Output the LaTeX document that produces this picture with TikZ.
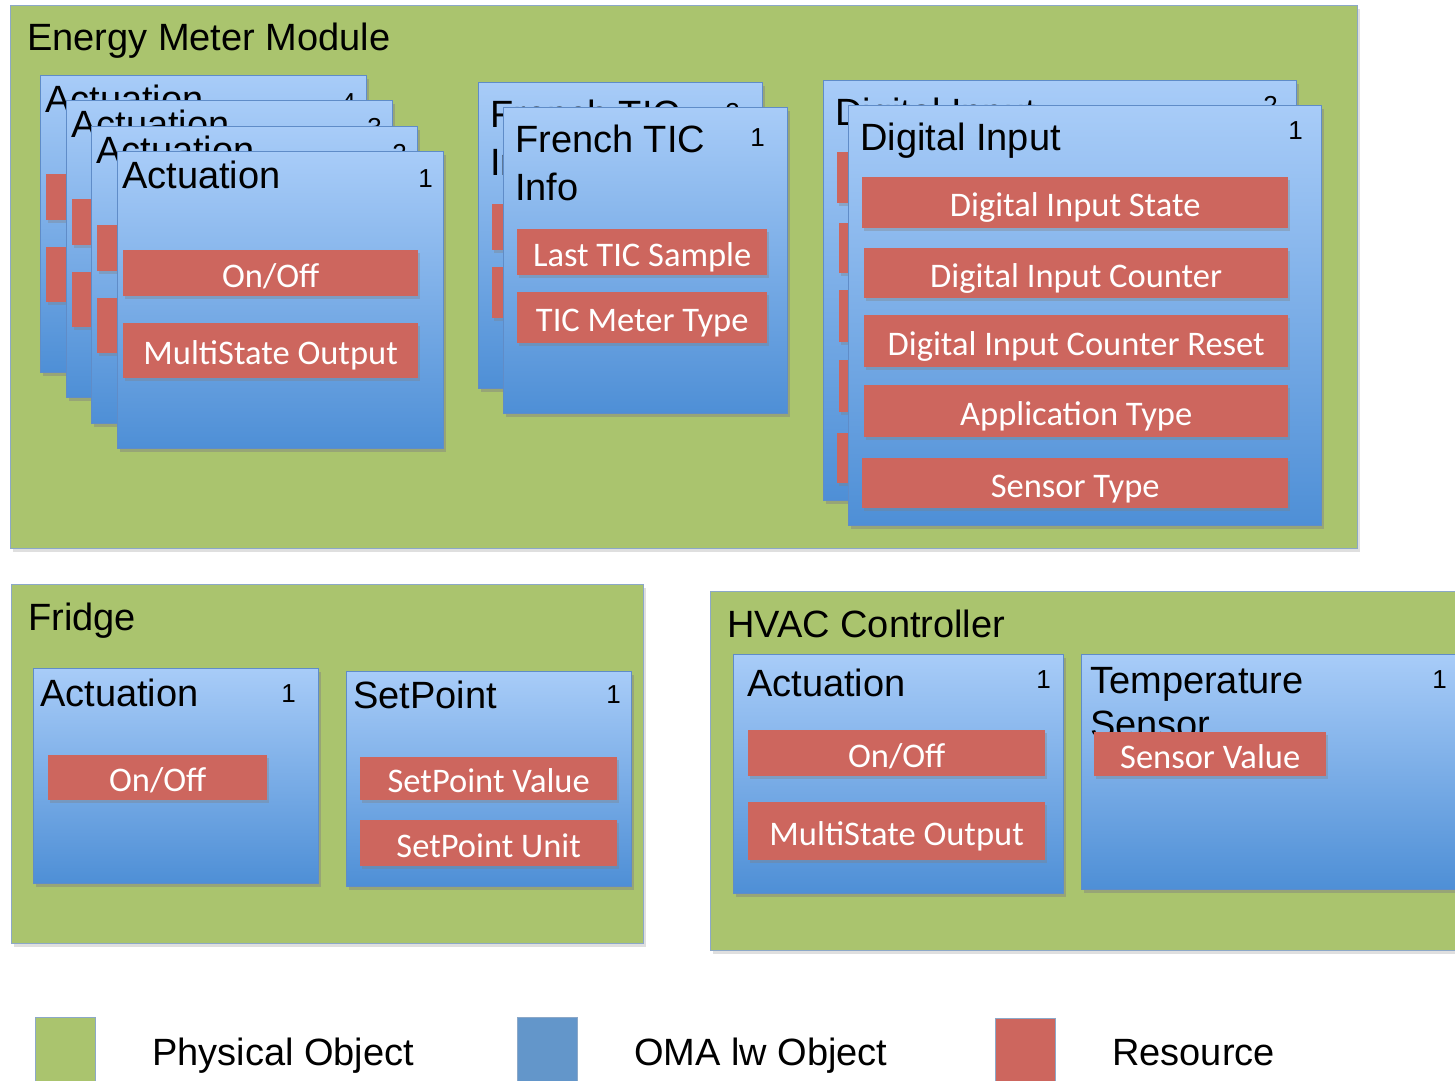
\documentclass[tikz,border=0pt]{standalone}
\usepackage{fontspec}
\setmainfont{Liberation Sans}
\newfontfamily\resfont{Carlito}
\usetikzlibrary{shadows}
\definecolor{phgreen}{RGB}{170,196,110}
\definecolor{phborder}{RGB}{140,168,200}
\definecolor{objtop}{RGB}{168,204,248}
\definecolor{objbot}{RGB}{78,143,214}
\definecolor{objborder}{RGB}{95,140,200}
\definecolor{resred}{RGB}{205,102,94}
\definecolor{legblue}{RGB}{99,150,202}
\tikzset{
 phys/.style={draw=phborder, fill=phgreen, line width=1.2pt, anchor=north west, inner sep=0pt,
   drop shadow={shadow xshift=2pt, shadow yshift=-3pt, opacity=0.25}},
 obj/.style={draw=objborder, line width=0.8pt, top color=objtop, bottom color=objbot, anchor=north west, inner sep=0pt,
   drop shadow={shadow xshift=3pt, shadow yshift=-4pt, opacity=0.45}},
 res/.style={fill=resred, anchor=north west, inner sep=0pt, text=white, font=\resfont\fontsize{34.5}{37}\selectfont,
   text height=28pt, text depth=0pt,
   drop shadow={shadow xshift=2pt, shadow yshift=-3pt, opacity=0.35}},
 ttl/.style={anchor=base west, inner sep=0pt, font=\fontsize{38}{40}\selectfont},
 num/.style={anchor=base east, inner sep=0pt, font=\fontsize{26}{28}\selectfont},
 legsq/.style={anchor=north west, inner sep=0pt, minimum width=60pt, minimum height=68pt, draw=phborder, line width=1pt},
}
\newcommand\ActBox[4]{%
\begin{scope}[shift={(#2,#3)}]
 \node[obj, minimum width=326pt, minimum height=297pt] (#1) at (0,0) {};
 \node[ttl] (#1t) at (5,37) {Actuation};
 \node[num] (#1n) at (316,36) {#4};
 \node[res, minimum width=295pt, minimum height=46pt] (#1a) at (6,99) {On/Off};
 \node[res, minimum width=295pt, minimum height=55pt] (#1b) at (6,172) {MultiState Output};
\end{scope}}
\newcommand\TICBox[4]{%
\begin{scope}[shift={(#2,#3)}]
 \node[obj, minimum width=284pt, minimum height=306pt] (#1) at (0,0) {};
 \node[ttl] (#1t) at (12,45) {French TIC};
 \node[ttl] (#1u) at (12,93) {Info};
 \node[num] (#1n) at (262,39) {#4};
 \node[res, minimum width=250pt, minimum height=46pt] (#1a) at (14,122) {Last TIC Sample};
 \node[res, minimum width=250pt, minimum height=51pt] (#1b) at (14,185) {TIC Meter Type};
\end{scope}}
\newcommand\DIBox[4]{%
\begin{scope}[shift={(#2,#3)}]
 \node[obj, minimum width=473pt, minimum height=420pt] (#1) at (0,0) {};
 \node[ttl] (#1t) at (12,45) {Digital Input};
 \node[num] (#1n) at (455,34) {#4};
 \node[res, minimum width=426pt, minimum height=51pt] (#1a) at (14,72) {Digital Input State};
 \node[res, minimum width=424pt, minimum height=50pt] (#1b) at (16,143) {Digital Input Counter};
 \node[res, minimum width=424pt, minimum height=52pt] (#1c) at (16,210) {Digital Input Counter Reset};
 \node[res, minimum width=424pt, minimum height=52pt] (#1d) at (16,280) {Application Type};
 \node[res, minimum width=426pt, minimum height=50pt] (#1e) at (14,353) {Sensor Type};
\end{scope}}
\begin{document}
\begin{tikzpicture}[x=1pt,y=-1pt]
\useasboundingbox (0,0) rectangle (1455,1080);
\clip (0,0) rectangle (1455,1080);
\fill[white] (0,0) rectangle (1455,1080);
% Energy Meter Module
\node[phys, minimum width=1347pt, minimum height=543pt] (emm) at (10,5) {};
\node[ttl] (emmt) at (27,50) {Energy Meter Module};
\ActBox{act4}{40}{75}{4}
\ActBox{act3}{66}{100}{3}
\ActBox{act2}{91}{126}{2}
\ActBox{act1}{117}{151}{1}
\TICBox{tic2}{478}{82}{2}
\TICBox{tic1}{503}{107}{1}
\DIBox{di2}{823}{80}{2}
\DIBox{di1}{848}{105}{1}
% Fridge
\node[phys, minimum width=632pt, minimum height=359pt] (fr) at (11,584) {};
\node[ttl] (frt) at (28,630) {Fridge};
\node[obj, minimum width=285pt, minimum height=215pt] (fract) at (33,668) {};
\node[ttl] (fractt) at (40,706) {Actuation};
\node[num] (fractn) at (296,702) {1};
\node[res, minimum width=219pt, minimum height=45pt] (fractr) at (48,755) {On/Off};
\node[obj, minimum width=285pt, minimum height=215pt] (frsp) at (346,671) {};
\node[ttl] (frspt) at (353,708) {SetPoint};
\node[num] (frspn) at (621,703) {1};
\node[res, minimum width=257pt, minimum height=43pt] (frspa) at (360,757) {SetPoint Value};
\node[res, minimum width=257pt, minimum height=46pt] (frspb) at (360,820) {SetPoint Unit};
% HVAC
\node[phys, minimum width=770pt, minimum height=359pt] (hv) at (710,591) {};
\node[ttl] (hvt) at (727,637) {HVAC Controller};
\node[obj, minimum width=330pt, minimum height=239pt] (hvact) at (733,654) {};
\node[ttl] (hvactt) at (747,696) {Actuation};
\node[num] (hvactn) at (1051,688) {1};
\node[res, minimum width=297pt, minimum height=46pt] (hvacta) at (748,730) {On/Off};
\node[res, minimum width=297pt, minimum height=58pt] (hvactb) at (748,802) {MultiState Output};
\node[obj, minimum width=400pt, minimum height=235pt] (hvts) at (1081,654) {};
\node[ttl] (hvtst) at (1090,693) {Temperature};
\node[ttl] (hvtsu) at (1090,737) {Sensor};
\node[num] (hvtsn) at (1447,688) {1};
\node[res, minimum width=232pt, minimum height=44pt] (hvtsa) at (1094,732) {Sensor Value};
% Legend
\node[legsq, fill=phgreen] (lg1) at (35,1017) {};
\node[ttl] (lg1t) at (152,1065) {Physical Object};
\node[legsq, fill=legblue] (lg2) at (517,1017) {};
\node[ttl] (lg2t) at (634,1065) {OMA lw Object};
\node[legsq, fill=resred] (lg3) at (995,1018) {};
\node[ttl] (lg3t) at (1112,1065) {Resource};
\end{tikzpicture}
\end{document}
